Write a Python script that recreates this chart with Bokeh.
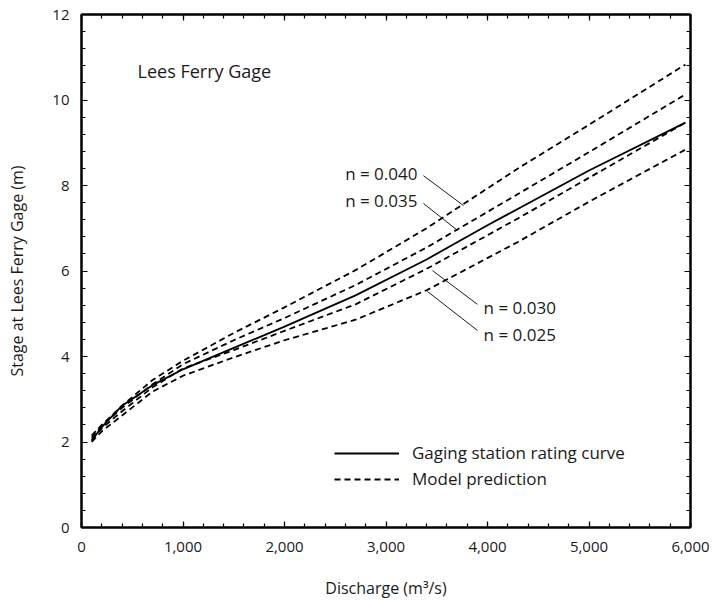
from bokeh.plotting import figure
from bokeh.models import LinearAxis, Legend, LegendItem, Range1d, FixedTicker, CustomJSTickFormatter
from bokeh.core.properties import value
from bokeh.embed import file_html
from bokeh.resources import INLINE

FONT = "Open Sans"
TXT = "#1a1a1a"

# Discharge (m3/s) sample points
q_rating = [100, 200, 400, 700, 1000, 1500, 2000, 2700, 3400, 4000, 5000, 5950]
stage_rating = [2.03, 2.35, 2.85, 3.33, 3.70, 4.20, 4.70, 5.43, 6.27, 7.07, 8.35, 9.47]

q_model = [100, 200, 400, 700, 1000, 1500, 2000, 2700, 3400, 4300, 5000, 5950]
stage_n040 = [2.15, 2.40, 2.85, 3.45, 3.90, 4.55, 5.15, 6.02, 7.00, 8.40, 9.42, 10.83]
stage_n035 = [2.10, 2.38, 2.80, 3.35, 3.82, 4.38, 4.90, 5.67, 6.55, 7.80, 8.78, 10.13]
stage_n030 = [2.05, 2.32, 2.72, 3.28, 3.72, 4.15, 4.60, 5.22, 6.05, 7.23, 8.18, 9.47]
stage_n025 = [2.00, 2.25, 2.62, 3.18, 3.55, 3.98, 4.38, 4.86, 5.55, 6.68, 7.62, 8.84]

n_labels = ["n = 0.040", "n = 0.035", "n = 0.030", "n = 0.025"]
x_ticks = [0, 1000, 2000, 3000, 4000, 5000, 6000]
y_ticks = [0, 2, 4, 6, 8, 10, 12]

p = figure(frame_width=609, frame_height=513,
           min_border_left=81, min_border_right=22, min_border_top=14, min_border_bottom=77,
           x_range=Range1d(0, 6000), y_range=Range1d(0, 12),
           output_backend="svg", toolbar_location=None,
           background_fill_color="white", border_fill_color="white")
p.grid.visible = False
p.outline_line_color = "black"
p.outline_line_width = 2

def style_axis(ax):
    ax.axis_line_width = 2
    ax.axis_line_color = "black"
    ax.major_tick_in = 6
    ax.major_tick_out = 0
    ax.minor_tick_in = 4
    ax.minor_tick_out = 0
    ax.major_tick_line_width = 1.2
    ax.minor_tick_line_width = 1.2
    ax.major_label_text_font = FONT
    ax.major_label_text_font_size = "15px"
    ax.major_label_text_color = TXT
    ax.axis_label_text_font = FONT
    ax.axis_label_text_font_size = "16px"
    ax.axis_label_text_font_style = "normal"
    ax.axis_label_text_color = TXT

x_minor = list(range(0, 6001, 200))
y_minor = [round(i * 0.4, 1) for i in range(31)]
fmt = CustomJSTickFormatter(code="return tick.toLocaleString('en-US');")
blank = CustomJSTickFormatter(code="return '';")

p.xaxis.ticker = FixedTicker(ticks=x_ticks, minor_ticks=x_minor)
p.yaxis.ticker = FixedTicker(ticks=y_ticks, minor_ticks=y_minor)
p.xaxis.formatter = fmt
style_axis(p.xaxis[0])
style_axis(p.yaxis[0])
p.xaxis.axis_label = "Discharge (m³/s)"
p.yaxis.axis_label = "Stage at Lees Ferry Gage (m)"
p.xaxis.major_label_standoff = 14
p.yaxis.major_label_standoff = 12
p.xaxis.axis_label_standoff = 22
p.yaxis.axis_label_standoff = 21

top = LinearAxis(ticker=FixedTicker(ticks=x_ticks, minor_ticks=x_minor), formatter=blank)
style_axis(top)
top.major_label_standoff = 0
p.add_layout(top, "above")
right = LinearAxis(ticker=FixedTicker(ticks=y_ticks, minor_ticks=y_minor), formatter=blank)
style_axis(right)
right.major_label_standoff = 0
p.add_layout(right, "right")

dash = "6 4"
r_rating = p.line(q_rating, stage_rating, line_color="black", line_width=1.8)
r_model = None
for s in [stage_n040, stage_n035, stage_n030, stage_n025]:
    r = p.line(q_model, s, line_color="black", line_width=1.8, line_dash=dash)
    if r_model is None:
        r_model = r

# leader lines for roughness labels
p.segment(x0=[3369, 3369, 3458, 3409], y0=[8.23, 7.58, 6.01, 5.52],
          x1=[3764, 3704, 3901, 3901], y1=[7.53, 6.95, 5.22, 4.61],
          line_color="black", line_width=0.9)
p.text(x=[3310, 3310], y=[8.28, 7.65], text=n_labels[:2], text_font=value(FONT),
       text_font_size="17px", text_align="right", text_baseline="middle", text_color=TXT)
p.text(x=[3961, 3961], y=[5.15, 4.51], text=n_labels[2:], text_font=value(FONT),
       text_font_size="17px", text_align="left", text_baseline="middle", text_color=TXT)

p.text(x=[552], y=[10.69], text=["Lees Ferry Gage"], text_font=value(FONT),
       text_font_size="18px", text_align="left", text_baseline="middle", text_color=TXT)

legend = Legend(items=[LegendItem(label="Gaging station rating curve", renderers=[r_rating]),
                       LegendItem(label="Model prediction", renderers=[r_model])],
                location=(253, 37), padding=0, margin=0, spacing=3,
                glyph_width=65, glyph_height=20, label_standoff=13,
                border_line_color=None, background_fill_alpha=0,
                label_text_font=FONT, label_text_font_size="17px", label_text_color=TXT)
p.add_layout(legend)

open("out.html", "w").write(file_html(p, INLINE))
